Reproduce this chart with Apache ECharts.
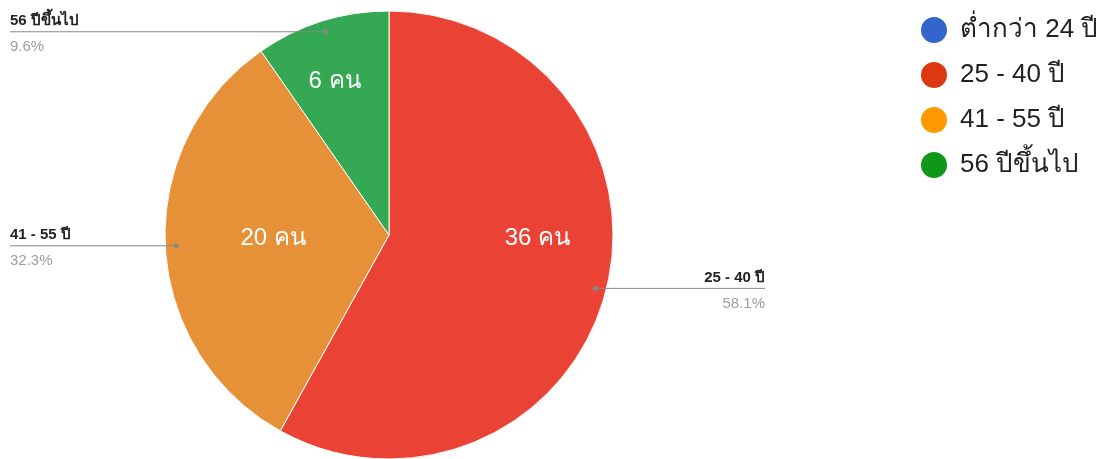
<!DOCTYPE html>
<html>
<head>
<meta charset="utf-8">
<script src="https://cdn.jsdelivr.net/npm/echarts@6/dist/echarts.min.js"></script>
<style>
  html, body { margin: 0; padding: 0; background: #fff; }
  #chart { width: 1107px; height: 459px; }
</style>
</head>
<body>
<div id="chart"></div>
<script>
// data
var ageGroups = ["ต่ำกว่า 24 ปี", "25 - 40 ปี", "41 - 55 ปี", "56 ปีขึ้นไป"];
var counts = [0, 36, 20, 6];
var percentLabels = ["0%", "58.1%", "32.3%", "9.6%"];

var sliceColors = ["#3366cc", "#ea4335", "#e69138", "#34a853"];
var legendColors = ["#3366cc", "#dc3912", "#ff9900", "#109618"];
// nudges for the in-slice labels (the original places them off the mid radius)
var insideLabelOffsets = [[0, 0], [37, -25], [-1, -2], [-20, -44]];

var fontFamily = "Liberation Sans, Arial, sans-serif";

var chart = echarts.init(document.getElementById("chart"));

var pieData = ageGroups.map(function (name, i) {
  var item = {
    name: name,
    value: counts[i],
    itemStyle: { color: sliceColors[i] },
    label: { offset: insideLabelOffsets[i] },
  };
  if (!counts[i]) {
    item.label = { show: false };
    item.labelLine = { show: false };
  }
  return item;
});

var option = {
  animation: false,
  legend: {
    orient: "vertical",
    left: 919,
    top: 15,
    padding: 0,
    itemWidth: 42,
    itemHeight: 28,
    itemGap: 15,
    icon: "circle",
    textStyle: { fontFamily: fontFamily, fontSize: 26, lineHeight: 28, color: "#222" },
    data: ageGroups.map(function (name, i) {
      return { name: name, itemStyle: { color: legendColors[i] } };
    }),
  },
  series: [
    {
      name: "inner",
      type: "pie",
      left: 0,
      top: 0,
      width: 778,
      height: 459,
      center: [389, 235],
      radius: 224,
      startAngle: 90,
      clockwise: true,
      silent: true,
      itemStyle: { borderColor: "#fff", borderWidth: 1 },
      label: {
        show: true,
        position: "inside",
        formatter: "{c} คน",
        color: "#fff",
        fontSize: 24,
        fontFamily: fontFamily,
      },
      labelLine: { show: false },
      data: pieData,
    },
    {
      name: "outer",
      type: "pie",
      left: 0,
      top: 0,
      width: 775,
      height: 459,
      center: [389, 235],
      radius: 213,
      startAngle: 90,
      clockwise: true,
      silent: true,
      z: 3,
      itemStyle: { color: "rgba(0,0,0,0)", borderWidth: 0 },
      label: {
        show: true,
        position: "outer",
        alignTo: "edge",
        edgeDistance: 10,
        formatter: function (p) {
          return "{n|" + p.name + "}\n{p|" + percentLabels[p.dataIndex] + "}";
        },
        rich: {
          n: { fontFamily: fontFamily, fontSize: 15, fontWeight: "bold", color: "#222", lineHeight: 30 },
          p: { fontFamily: fontFamily, fontSize: 15, color: "#9e9e9e", lineHeight: 22 },
        },
      },
      labelLine: {
        show: true,
        length: 0,
        length2: 20,
        lineStyle: { color: "#888", width: 1 },
      },
      labelLayout: function (params) {
        var pts = params.labelLinePoints;
        if (!pts) return {};
        var r = params.labelRect;
        var last = pts[pts.length - 1];
        var first = pts[0];
        var endX = last[0] < first[0] ? r.x : r.x + r.width;
        var newPts = pts.map(function (p) { return p.slice(); });
        newPts[newPts.length - 1][0] = endX;
        return { labelLinePoints: newPts };
      },
      data: ageGroups.map(function (name, i) {
        var item = { name: name, value: counts[i] };
        if (!counts[i]) {
          item.label = { show: false };
          item.labelLine = { show: false };
        }
        return item;
      }),
    },
  ],
};

chart.setOption(option);

// small grey dots where the leader lines start, taken from the pie's own layout
var outerData = chart.getModel().getSeriesByIndex(1).getData();
var dots = [];
outerData.each(function (idx) {
  if (!outerData.get("value", idx)) return;
  var lay = outerData.getItemLayout(idx);
  var mid = (lay.startAngle + lay.endAngle) / 2;
  dots.push({
    type: "circle",
    z: 10,
    shape: { cx: lay.cx + lay.r * Math.cos(mid), cy: lay.cy + lay.r * Math.sin(mid), r: 2.5 },
    style: { fill: "#888" },
    silent: true,
  });
});
chart.setOption({ graphic: dots });
</script>
</body>
</html>
